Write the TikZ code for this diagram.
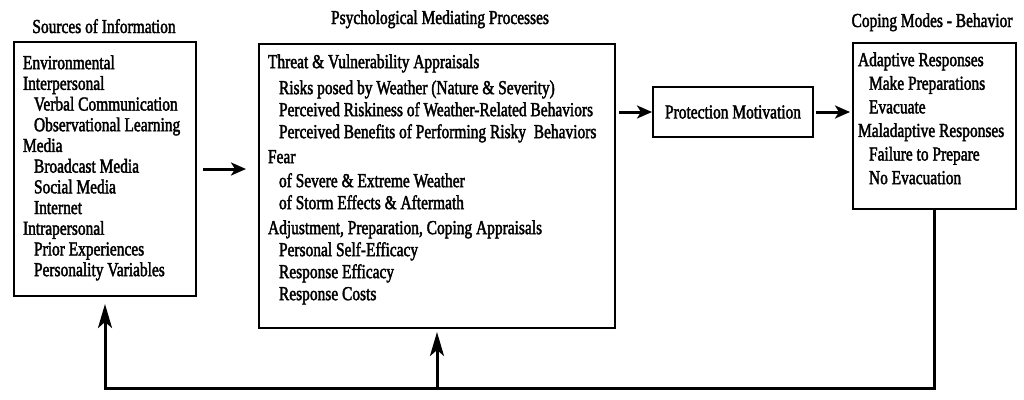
\documentclass[tikz,border=0pt]{standalone}
\usepackage{fontspec}
\setmainfont{Liberation Serif}[FakeStretch=0.78,FakeBold=2]
\usetikzlibrary{arrows.meta,positioning}
\newcommand{\boxbody}[5]{\begin{minipage}[t][#2][t]{#1}\raggedright\fontsize{19.8}{#4}\selectfont\vspace*{#3}#5\end{minipage}}
\newcommand{\indline}{\hspace*{11pt}}

\begin{document}
\begin{tikzpicture}[
  x=1pt,
  y=-1pt,
  every node/.style={font=\fontsize{19.8}{22}\selectfont},
  title/.style={anchor=base, inner sep=0pt},
  panel/.style={draw, line width=2pt, anchor=north west, inner xsep=9pt, inner ysep=0pt},
  pmbox/.style={draw, line width=2pt, minimum width=160pt, minimum height=50pt, inner sep=0pt},
  flow/.style={-{Stealth[length=15pt,width=13pt,inset=4pt]}, line width=3pt},
  upflow/.style={-{Stealth[length=24pt,width=14pt,inset=6pt]}, line width=3pt}
]
\useasboundingbox (0,0) rectangle (1024,399);

\node[title] (srct) at (104,33) {Sources of Information};
\node[title] (medt) at (440,24) {Psychological Mediating Processes};
\node[title] (copt) at (932,27) {Coping Modes - Behavior};

\node[panel] (src) at (13,41) {\boxbody{164pt}{254pt}{13.4pt}{20.7pt}{%
Environmental\\
Interpersonal\\
\indline Verbal Communication\\
\indline Observational Learning\\
Media\\
\indline Broadcast Media\\
\indline Social Media\\
\indline Internet\\
Intrapersonal\\
\indline Prior Experiences\\
\indline Personality Variables}};

\node[panel] (med) at (258,43) {\boxbody{338pt}{284pt}{10.4pt}{22pt}{%
Threat \& Vulnerability Appraisals\\[4pt]
\indline Risks posed by Weather (Nature \& Severity)\\
\indline Perceived Riskiness of Weather-Related Behaviors\\
\indline Perceived Benefits of Performing Risky\ \ Behaviors\\[3pt]
Fear\\[2pt]
\indline of Severe \& Extreme Weather\\
\indline of Storm Effects \& Aftermath\\[3pt]
Adjustment, Preparation, Coping Appraisals\\
\indline Personal Self-Efficacy\\
\indline Response Efficacy\\
\indline Response Costs}};

\node[pmbox] (pm) at (733,112) {Protection Motivation};

\node[panel, inner xsep=5pt] (cop) at (852,42) {\boxbody{153pt}{166pt}{9.4pt}{23.6pt}{%
Adaptive Responses\\
\indline Make Preparations\\
\indline Evacuate\\
Maladaptive Responses\\
\indline Failure to Prepare\\
\indline No Evacuation}};

\draw[flow, shorten <=6pt, shorten >=12pt] (src.east) -- (src.east -| med.west);
\draw[flow, shorten <=3pt] (med.east |- pm.west) -- (pm.west);
\draw[flow, shorten <=2pt, shorten >=2pt] (pm.east) -- (pm.east -| cop.west);

\coordinate (turn) at (cop.south |- 0,388);
\draw[upflow, shorten >=7pt] (cop.south) -- (turn) -| (src.south);
\draw[upflow, shorten >=3pt] (med.south |- turn) -- (med.south);
\end{tikzpicture}
\end{document}
